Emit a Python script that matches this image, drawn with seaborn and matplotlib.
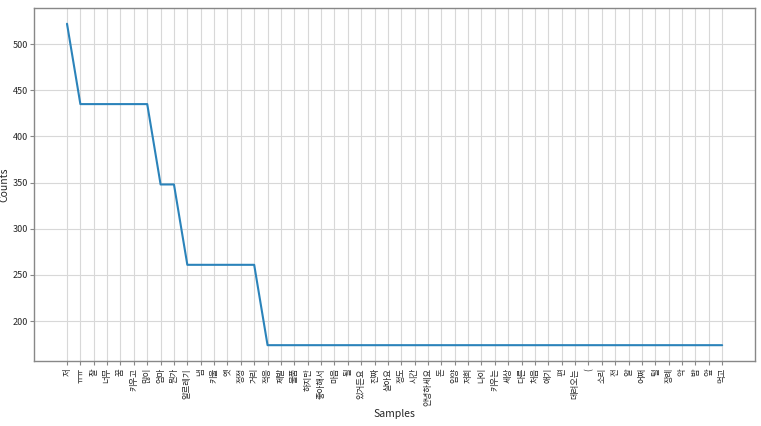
import matplotlib
matplotlib.use("Agg")
import matplotlib.pyplot as plt
import seaborn as sns
import pandas as pd

samples = ["저", "ㅠㅠ", "잘", "너무", "꿈", "키우고", "많이", "엄마", "뭔가", "알르레기",
           "냄", "키울", "옛", "정정", "거리", "적응", "제발", "물품", "하지만", "좋아해서",
           "마음", "될", "있거든요", "진짜", "살아요", "정도", "시간", "안녕하세요", "돈", "입양",
           "저희", "나이", "키우는", "세상", "다른", "처음", "애기", "편", "데려오는", "(",
           "소리", "전", "알", "어쩌", "털", "장례", "악", "밥", "앞", "먹고"]
counts = [522, 435, 435, 435, 435, 435, 435, 348, 348, 261,
          261, 261, 261, 261, 261, 174, 174, 174, 174, 174,
          174, 174, 174, 174, 174, 174, 174, 174, 174, 174,
          174, 174, 174, 174, 174, 174, 174, 174, 174, 174,
          174, 174, 174, 174, 174, 174, 174, 174, 174, 174]

sns.set_style("whitegrid")
plt.rcParams['font.family'] = ['Noto Sans CJK KR', 'DejaVu Sans']

df = pd.DataFrame({"idx": range(len(samples)), "count": counts})

fig, ax = plt.subplots(figsize=(7.61, 4.26), dpi=100)
fig.subplots_adjust(left=0.045, right=0.992, top=0.982, bottom=0.152)
sns.lineplot(data=df, x="idx", y="count", ax=ax, color="#2b83ba", linewidth=1.5)
ax.margins(x=0.05, y=0.05)
ax.set_xticks(range(len(samples)))
ax.set_xticklabels(samples, rotation=90, fontsize=6)
ax.tick_params(axis='y', labelsize=6.5, pad=1.5)
ax.tick_params(axis='x', pad=2)
ax.tick_params(axis='both', length=3, color="#888888", bottom=True, left=True)
ax.set_xlabel("Samples", fontsize=7.5, labelpad=2)
ax.set_ylabel("Counts", fontsize=7.5, labelpad=2)
ax.grid(True, color="#d8d8d8", linewidth=0.8)
for s in ax.spines.values():
    s.set_color("#888888")
    s.set_linewidth(1.0)
fig.savefig("out.png", dpi=100)
